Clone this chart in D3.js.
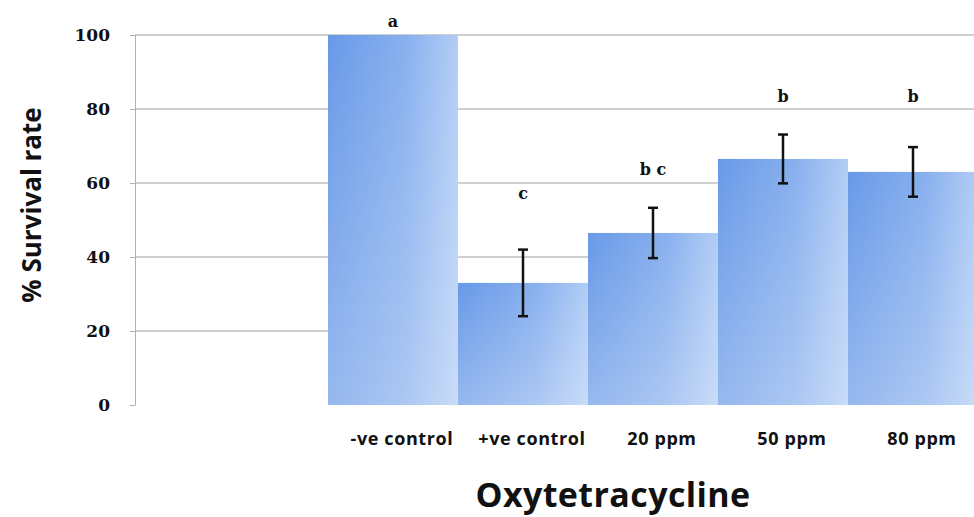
<!DOCTYPE html>
<html>
<head>
<meta charset="utf-8">
<script src="https://cdn.jsdelivr.net/npm/d3@7"></script>
<style>
  body { margin: 0; background: #fff; }
  svg { display: block; }
</style>
</head>
<body>
<svg id="chart" width="974" height="517"></svg>
<script>
// DATA
const categories = ["-ve control", "+ve control", "20 ppm", "50 ppm", "80 ppm"];
const survival = [100, 33, 46.5, 66.5, 63];
const errors = [0, 9, 6.8, 6.6, 6.7];
const letters = ["a", "c", "b c", "b", "b"];
const letterLevel = [103.5, 57, 63.5, 83, 83];
const yTicks = [0, 20, 40, 60, 80, 100];

// SETUP
const svg = d3.select("#chart");
const axisX = 135, plotRight = 974;
const barLeft = 328, barRight = 978;
const sans = "'Open Sans', Lato, sans-serif";
const serif = "'DejaVu Serif', 'Liberation Serif', serif";

const xScale = d3.scaleBand()
    .domain(categories)
    .range([barLeft, barRight])
    .padding(0);

const yScale = d3.scaleLinear()
    .domain([0, 100])
    .range([405, 35]);

// gradients for bars
const defs = svg.append("defs");
const gH = defs.append("linearGradient").attr("id", "barH")
    .attr("x1", 0).attr("x2", 1).attr("y1", 0).attr("y2", 0);
gH.append("stop").attr("offset", "0%").attr("stop-color", "#6899e8");
gH.append("stop").attr("offset", "60%").attr("stop-color", "#88b0ee");
gH.append("stop").attr("offset", "100%").attr("stop-color", "#b2cdf5");
const gV = defs.append("linearGradient").attr("id", "barV")
    .attr("x1", 0).attr("x2", 0).attr("y1", 0).attr("y2", 1);
gV.append("stop").attr("offset", "0%").attr("stop-color", "#fff").attr("stop-opacity", 0);
gV.append("stop").attr("offset", "100%").attr("stop-color", "#fff").attr("stop-opacity", 0.3);

// gridlines
svg.append("g")
    .selectAll("line")
    .data(yTicks.filter(d => d > 0))
    .join("line")
    .attr("x1", axisX).attr("x2", plotRight)
    .attr("y1", d => yScale(d)).attr("y2", d => yScale(d))
    .attr("stroke", "#a0a0a0")
    .attr("stroke-width", 1.2);

// y axis
const yAxis = svg.append("g")
    .attr("transform", `translate(${axisX},0)`)
    .call(d3.axisLeft(yScale).tickValues(yTicks).tickSize(5).tickPadding(20));
yAxis.select(".domain").attr("stroke", "#b0b0b0");
yAxis.selectAll(".tick line").attr("stroke", "#b0b0b0");
yAxis.selectAll(".tick text")
    .attr("font-family", serif)
    .attr("font-weight", "bold")
    .attr("font-size", 17)
    .attr("fill", "#111");

// bars
const bars = svg.append("g");
bars.selectAll("rect.bar")
    .data(categories)
    .join("rect")
    .attr("class", "bar")
    .attr("x", d => xScale(d))
    .attr("y", (d, i) => yScale(survival[i]))
    .attr("width", xScale.bandwidth())
    .attr("height", (d, i) => yScale(0) - yScale(survival[i]))
    .attr("fill", "url(#barH)");
bars.selectAll("rect.shade")
    .data(categories)
    .join("rect")
    .attr("class", "shade")
    .attr("x", d => xScale(d))
    .attr("y", (d, i) => yScale(survival[i]))
    .attr("width", xScale.bandwidth())
    .attr("height", (d, i) => yScale(0) - yScale(survival[i]))
    .attr("fill", "url(#barV)");

// error bars
const errG = svg.append("g")
    .selectAll("g")
    .data(categories.map((c, i) => ({ c, v: survival[i], e: errors[i] })).filter(d => d.e > 0))
    .join("g")
    .attr("stroke", "#111")
    .attr("stroke-width", 2.5);
const cx = d => xScale(d.c) + xScale.bandwidth() / 2;
errG.append("line")
    .attr("x1", cx).attr("x2", cx)
    .attr("y1", d => yScale(d.v + d.e)).attr("y2", d => yScale(d.v - d.e));
errG.append("line")
    .attr("x1", d => cx(d) - 5).attr("x2", d => cx(d) + 5)
    .attr("y1", d => yScale(d.v + d.e)).attr("y2", d => yScale(d.v + d.e));
errG.append("line")
    .attr("x1", d => cx(d) - 5).attr("x2", d => cx(d) + 5)
    .attr("y1", d => yScale(d.v - d.e)).attr("y2", d => yScale(d.v - d.e));

// significance letters
svg.append("g")
    .selectAll("text")
    .data(categories)
    .join("text")
    .attr("x", d => xScale(d) + xScale.bandwidth() / 2)
    .attr("y", (d, i) => yScale(letterLevel[i]))
    .attr("text-anchor", "middle")
    .attr("dominant-baseline", "middle")
    .attr("font-family", serif)
    .attr("font-weight", "bold")
    .attr("font-size", 16)
    .attr("fill", "#111")
    .text((d, i) => letters[i]);

// category labels
svg.append("g")
    .selectAll("text")
    .data(categories)
    .join("text")
    .attr("x", d => xScale(d) + xScale.bandwidth() / 2 + 9)
    .attr("y", 445)
    .attr("text-anchor", "middle")
    .attr("font-family", sans)
    .attr("font-weight", "bold")
    .attr("font-size", 18)
    .attr("letter-spacing", 0.6)
    .attr("fill", "#111")
    .text(d => d);

// axis titles
svg.append("text")
    .attr("transform", "rotate(-90)")
    .attr("x", -205)
    .attr("y", 41)
    .attr("text-anchor", "middle")
    .attr("font-family", sans)
    .attr("font-weight", "bold")
    .attr("font-size", 26)
    .attr("fill", "#111")
    .text("% Survival rate");

svg.append("text")
    .attr("x", 613)
    .attr("y", 507)
    .attr("text-anchor", "middle")
    .attr("font-family", sans)
    .attr("font-weight", "bold")
    .attr("font-size", 34)
    .attr("letter-spacing", 0.4)
    .attr("fill", "#111")
    .text("Oxytetracycline");
</script>
</body>
</html>
